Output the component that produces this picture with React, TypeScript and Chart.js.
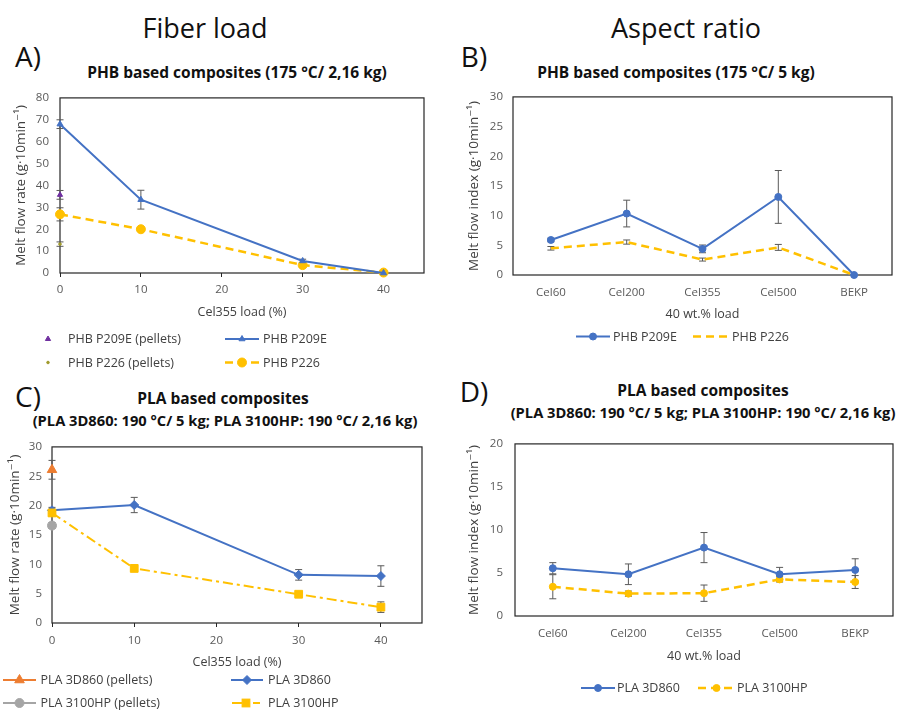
import React, { useEffect, useRef } from "react";
import { Chart, registerables } from "chart.js";

Chart.register(...registerables);

const FONT = "'Open Sans', 'DejaVu Sans', sans-serif";

// ---------------- Data ----------------
const fiberLoad = [0, 10, 30, 40];
const pelletLoad = [0];
const aspectCategories = ["Cel60", "Cel200", "Cel355", "Cel500", "BEKP"];

// A) PHB, fiber load
const phbP209EPellets = [35.7];
const phbP209EPelletsErr = [2];
const phbP226Pellets = [13.2];
const phbP226PelletsErr = [1];
const phbP209E = [68, 33.5, 5.5, 0];
const phbP209EErr = [2, 4.3, 0.8, 0];
const phbP226 = [26.8, 20, 3.6, 0.2];
const phbP226Err = [3, 0.9, 1, 0];

// B) PHB, aspect ratio
const phbP209EAspect = [5.9, 10.35, 4.4, 13.15, 0];
const phbP209EAspectErr = [0.3, 2.25, 0.65, 4.45, 0];
const phbP226Aspect = [4.5, 5.55, 2.6, 4.65, 0];
const phbP226AspectErr = [0.3, 0.35, 0.25, 0.5, 0];

// C) PLA, fiber load
const pla3D860Pellets = [26.1];
const pla3D860PelletsErr = [1.6];
const pla3100HPPellets = [16.6];
const pla3100HPPelletsErr = [0.5];
const pla3D860 = [19.2, 20.1, 8.2, 8.0];
const pla3D860Err = [0.5, 1.3, 0.9, 1.75];
const pla3100HP = [18.75, 9.3, 4.9, 2.7];
const pla3100HPErr = [0.5, 0.3, 0.3, 0.9];

// D) PLA, aspect ratio
const pla3D860Aspect = [5.55, 4.85, 7.95, 4.85, 5.35];
const pla3D860AspectErr = [0.65, 1.2, 1.75, 0.8, 1.3];
const pla3100HPAspect = [3.4, 2.6, 2.65, 4.25, 3.95];
const pla3100HPAspectErr = [1.4, 0.3, 0.95, 0.3, 0.75];

// axis ranges [min, max, step]
const xRangeLoad = [0, 45, 10];
const yRangeA = [0, 80, 10];
const yRangeB = [0, 30, 5];
const yRangeC = [0, 30, 5];
const yRangeD = [0, 20, 5];

// ---------------- Styles ----------------
const C = {
  blue: "#4472C4",
  yellow: "#FFC000",
  orange: "#ED7D31",
  gray: "#A5A5A5",
  purple: "#7030A0",
  olive: "#A09A2C",
  axis: "#262626",
  tick: "#595959",
  title: "#404040",
  err: "#595959",
};

type Style = { color: string; lw: number; dash?: number[]; marker: string; r: number; line: boolean };

const ST: Record<string, Style> = {
  phb209ePel: { color: C.purple, lw: 0, marker: "triangle", r: 3, line: false },
  phb226Pel: { color: C.olive, lw: 0, marker: "circle", r: 1.3, line: false },
  phb209e: { color: C.blue, lw: 2, marker: "triangle", r: 3.5, line: true },
  phb226: { color: C.yellow, lw: 2.5, dash: [8, 5], marker: "circle", r: 4.5, line: true },
  phb209eB: { color: C.blue, lw: 2, marker: "circle", r: 3.5, line: true },
  phb226B: { color: C.yellow, lw: 2.5, dash: [8, 5], marker: "circle", r: 0, line: true },
  pla3dPel: { color: C.orange, lw: 2, marker: "triangle", r: 5.5, line: true },
  pla31Pel: { color: C.gray, lw: 2, marker: "circle", r: 4.5, line: true },
  pla3d: { color: C.blue, lw: 2, marker: "rectRot", r: 4.5, line: true },
  pla31: { color: C.yellow, lw: 2, dash: [10, 4, 3, 4], marker: "rect", r: 5.5, line: true },
  pla3dD: { color: C.blue, lw: 2, marker: "circle", r: 3.5, line: true },
  pla31D: { color: C.yellow, lw: 2.5, dash: [8, 5], marker: "circle", r: 3.5, line: true },
};

function mkDs(label: string, data: any[], errors: number[], st: Style) {
  return {
    label,
    data,
    errorBars: errors,
    borderColor: st.color,
    backgroundColor: st.color,
    borderWidth: st.lw,
    borderDash: st.dash || [],
    showLine: st.line,
    pointStyle: st.marker,
    pointRadius: st.r,
    pointHoverRadius: st.r,
    pointBackgroundColor: st.color,
    pointBorderColor: st.color,
    pointBorderWidth: 1,
    tension: 0,
    clip: false,
    fill: false,
  };
}

const xy = (xs: number[], ys: number[]) => ys.map((y, i) => ({ x: xs[i], y }));

// plot border + error bars
const plotPlugin = {
  id: "plotBorderErr",
  beforeDatasetsDraw(chart: any) {
    const { ctx, chartArea: a } = chart;
    ctx.save();
    ctx.strokeStyle = C.axis;
    ctx.lineWidth = 1.2;
    ctx.setLineDash([]);
    ctx.strokeRect(a.left, a.top, a.right - a.left, a.bottom - a.top);
    const yScale = chart.scales.y;
    chart.data.datasets.forEach((ds: any, i: number) => {
      const err: number[] | undefined = ds.errorBars;
      if (!err) return;
      const meta = chart.getDatasetMeta(i);
      meta.data.forEach((el: any, j: number) => {
        const e = err[j];
        if (!e) return;
        const raw = ds.data[j];
        const v = typeof raw === "number" ? raw : raw.y;
        const yT = yScale.getPixelForValue(v + e);
        const yB = yScale.getPixelForValue(Math.max(0, v - e));
        const x = el.x;
        ctx.strokeStyle = C.err;
        ctx.lineWidth = 1;
        ctx.beginPath();
        ctx.moveTo(x, yT);
        ctx.lineTo(x, yB);
        ctx.moveTo(x - 3.5, yT);
        ctx.lineTo(x + 3.5, yT);
        ctx.moveTo(x - 3.5, yB);
        ctx.lineTo(x + 3.5, yB);
        ctx.stroke();
      });
    });
    ctx.restore();
  },
};

type Geo = { W: number; H: number; padL: number; padT: number; padR: number; yW: number; xH: number; yPad: number; xPad: number };
type Panel = {
  left: number;
  top: number;
  geo: Geo;
  xType: "linear" | "category";
  xTitle: string;
  yTitle: string;
  yRange: number[];
  datasets: any[];
};

function buildConfig(p: Panel): any {
  const g = p.geo;
  const tickFont = { family: FONT, size: 11.5 };
  const xTitleFont = { family: FONT, size: 12.5 };
  const yTitleFont = { family: FONT, size: 13.5 };
  const xScale: any =
    p.xType === "linear"
      ? {
          type: "linear",
          min: xRangeLoad[0],
          max: xRangeLoad[1],
          ticks: { stepSize: xRangeLoad[2], includeBounds: false, padding: g.xPad, color: C.tick, font: tickFont },
          grid: { display: true, drawOnChartArea: false, drawTicks: true, tickLength: 4, color: C.axis, lineWidth: 1 },
          border: { display: false },
        }
      : {
          type: "category",
          offset: true,
          ticks: { padding: g.xPad, color: C.tick, font: tickFont },
          grid: { display: false, drawTicks: false },
          border: { display: false },
        };
  xScale.title = { display: true, text: p.xTitle, color: C.title, font: xTitleFont, padding: 0 };
  xScale.afterFit = (s: any) => {
    s.height = g.xH;
  };
  const yScale: any = {
    type: "linear",
    min: p.yRange[0],
    max: p.yRange[1],
    ticks: { stepSize: p.yRange[2], padding: g.yPad, color: C.tick, font: tickFont },
    grid: { display: false, drawTicks: false },
    border: { display: false },
    title: { display: true, text: p.yTitle, color: C.title, font: yTitleFont, padding: 0 },
    afterFit: (s: any) => {
      s.width = g.yW;
    },
  };
  return {
    type: "line",
    data: p.xType === "linear" ? { datasets: p.datasets } : { labels: aspectCategories, datasets: p.datasets },
    options: {
      responsive: false,
      maintainAspectRatio: false,
      animation: false,
      events: [],
      layout: { autoPadding: false, padding: { left: g.padL, top: g.padT, right: g.padR, bottom: 0 } },
      plugins: { legend: { display: false }, tooltip: { enabled: false }, title: { display: false } },
      scales: { x: xScale, y: yScale },
    },
    plugins: [plotPlugin],
  };
}

const YT_RATE = "Melt flow rate (g·10min⁻¹)";
const YT_INDEX = "Melt flow index (g·10min⁻¹)";

const panels: Panel[] = [
  {
    left: 0,
    top: 80,
    geo: { W: 440, H: 240, padL: 13, padT: 11, padR: 16, yW: 47, xH: 47, yPad: 11, xPad: 6 },
    xType: "linear",
    xTitle: "Cel355 load (%)",
    yTitle: YT_RATE,
    yRange: yRangeA,
    datasets: [
      mkDs("PHB P209E", xy(fiberLoad, phbP209E), phbP209EErr, ST.phb209e),
      mkDs("PHB P226", xy(fiberLoad, phbP226), phbP226Err, ST.phb226),
      mkDs("PHB P209E (pellets)", xy(pelletLoad, phbP209EPellets), phbP209EPelletsErr, ST.phb209ePel),
      mkDs("PHB P226 (pellets)", xy(pelletLoad, phbP226Pellets), phbP226PelletsErr, ST.phb226Pel),
    ],
  },
  {
    left: 450,
    top: 80,
    geo: { W: 449, H: 242, padL: 16, padT: 14, padR: 7, yW: 47, xH: 47, yPad: 10, xPad: 11 },
    xType: "category",
    xTitle: "40 wt.% load",
    yTitle: YT_INDEX,
    yRange: yRangeB,
    datasets: [
      mkDs("PHB P209E", phbP209EAspect, phbP209EAspectErr, ST.phb209eB),
      mkDs("PHB P226", phbP226Aspect, phbP226AspectErr, ST.phb226B),
    ],
  },
  {
    left: 0,
    top: 430,
    geo: { W: 440, H: 240, padL: 7, padT: 6, padR: 18, yW: 45, xH: 47, yPad: 10, xPad: 7 },
    xType: "linear",
    xTitle: "Cel355 load (%)",
    yTitle: YT_RATE,
    yRange: yRangeC,
    datasets: [
      mkDs("PLA 3100HP", xy(fiberLoad, pla3100HP), pla3100HPErr, ST.pla31),
      mkDs("PLA 3D860", xy(fiberLoad, pla3D860), pla3D860Err, ST.pla3d),
      mkDs("PLA 3D860 (pellets)", xy(pelletLoad, pla3D860Pellets), pla3D860PelletsErr, ST.pla3dPel),
      mkDs("PLA 3100HP (pellets)", xy(pelletLoad, pla3100HPPellets), pla3100HPPelletsErr, ST.pla31Pel),
    ],
  },
  {
    left: 450,
    top: 425,
    geo: { W: 449, H: 239, padL: 16, padT: 8, padR: 6, yW: 49, xH: 48, yPad: 12, xPad: 11 },
    xType: "category",
    xTitle: "40 wt.% load",
    yTitle: YT_INDEX,
    yRange: yRangeD,
    datasets: [
      mkDs("PLA 3D860", pla3D860Aspect, pla3D860AspectErr, ST.pla3dD),
      mkDs("PLA 3100HP", pla3100HPAspect, pla3100HPAspectErr, ST.pla31D),
    ],
  },
];

function ChartCanvas({ panel }: { panel: Panel }) {
  const ref = useRef<HTMLCanvasElement>(null);
  useEffect(() => {
    const chart = new Chart(ref.current as HTMLCanvasElement, buildConfig(panel));
    return () => chart.destroy();
  }, []);
  const g = panel.geo;
  return (
    <canvas
      ref={ref}
      width={g.W}
      height={g.H}
      style={{ position: "absolute", left: panel.left, top: panel.top, width: g.W, height: g.H }}
    />
  );
}

function Txt({ x, y, size, bold, children, color }: any) {
  return (
    <div
      style={{
        position: "absolute",
        left: x,
        top: y,
        transform: "translate(-50%, -50%)",
        fontFamily: FONT,
        fontSize: size,
        fontWeight: bold ? 700 : 400,
        lineHeight: 1,
        whiteSpace: "nowrap",
        color: color || "#111",
      }}
    >
      {children}
    </div>
  );
}

type LegendItem = { label: string; st: Style; x1: number; x2: number; tx: number; y: number };

const legendItems: LegendItem[] = [
  { label: "PHB P209E (pellets)", st: ST.phb209ePel, x1: 48, x2: 48, tx: 68, y: 339 },
  { label: "PHB P209E", st: ST.phb209e, x1: 225, x2: 259, tx: 263, y: 339 },
  { label: "PHB P226 (pellets)", st: ST.phb226Pel, x1: 48, x2: 48, tx: 68, y: 362.5 },
  { label: "PHB P226", st: ST.phb226, x1: 225, x2: 259, tx: 263, y: 362.5 },
  { label: "PHB P209E", st: ST.phb209eB, x1: 576, x2: 610, tx: 613, y: 336.5 },
  { label: "PHB P226", st: ST.phb226B, x1: 693, x2: 728, tx: 732, y: 336.5 },
  { label: "PLA 3D860 (pellets)", st: ST.pla3dPel, x1: 3, x2: 36, tx: 40.5, y: 680 },
  { label: "PLA 3D860", st: ST.pla3d, x1: 231, x2: 263, tx: 268, y: 680 },
  { label: "PLA 3100HP (pellets)", st: ST.pla31Pel, x1: 3, x2: 36, tx: 40.5, y: 703 },
  { label: "PLA 3100HP", st: ST.pla31, x1: 232, x2: 260, tx: 268, y: 703 },
  { label: "PLA 3D860", st: ST.pla3dD, x1: 581, x2: 615, tx: 617, y: 688 },
  { label: "PLA 3100HP", st: ST.pla31D, x1: 698, x2: 735, tx: 737, y: 688 },
];

function MarkerSvg({ st, cx, cy }: { st: Style; cx: number; cy: number }) {
  const r = st.r;
  if (r <= 0) return null;
  const f = st.color;
  if (st.marker === "triangle") {
    const pts = `${cx},${cy - r} ${cx - r * 0.87},${cy + r * 0.5} ${cx + r * 0.87},${cy + r * 0.5}`;
    return <polygon points={pts} fill={f} stroke={f} strokeWidth={1} />;
  }
  if (st.marker === "rect") {
    const s = r * Math.SQRT1_2;
    return <rect x={cx - s} y={cy - s} width={2 * s} height={2 * s} fill={f} stroke={f} strokeWidth={1} />;
  }
  if (st.marker === "rectRot") {
    const pts = `${cx},${cy - r} ${cx + r},${cy} ${cx},${cy + r} ${cx - r},${cy}`;
    return <polygon points={pts} fill={f} stroke={f} strokeWidth={1} />;
  }
  return <circle cx={cx} cy={cy} r={r} fill={f} stroke={f} strokeWidth={1} />;
}

function Legends() {
  return (
    <>
      <svg width={899} height={711} style={{ position: "absolute", left: 0, top: 0, pointerEvents: "none" }}>
        {legendItems.map((it, i) => (
          <g key={i}>
            {it.st.line && it.x2 > it.x1 ? (
              <line
                x1={it.x1}
                x2={it.x2}
                y1={it.y}
                y2={it.y}
                stroke={it.st.color}
                strokeWidth={it.st.lw}
                strokeDasharray={it.st.dash ? it.st.dash.join(" ") : undefined}
              />
            ) : null}
            <MarkerSvg st={it.st} cx={(it.x1 + it.x2) / 2} cy={it.y} />
          </g>
        ))}
      </svg>
      {legendItems.map((it, i) => (
        <div
          key={"t" + i}
          style={{
            position: "absolute",
            left: it.tx,
            top: it.y,
            transform: "translateY(-50%)",
            fontFamily: FONT,
            fontSize: 12.5,
            lineHeight: 1,
            whiteSpace: "nowrap",
            color: "#404040",
          }}
        >
          {it.label}
        </div>
      ))}
    </>
  );
}

export default function App() {
  return (
    <div style={{ position: "absolute", left: 0, top: 0, width: 899, height: 711, background: "#fff", overflow: "hidden" }}>
      <Txt x={205} y={27} size={27}>Fiber load</Txt>
      <Txt x={686} y={27} size={27}>Aspect ratio</Txt>
      <Txt x={28} y={56} size={28}>A)</Txt>
      <Txt x={474} y={56} size={28}>B)</Txt>
      <Txt x={28} y={396} size={28}>C)</Txt>
      <Txt x={474} y={391} size={28}>D)</Txt>
      <Txt x={237} y={73} size={15.5} bold>PHB based composites (175 °C/ 2,16 kg)</Txt>
      <Txt x={676} y={73} size={15.5} bold>PHB based composites (175 °C/ 5 kg)</Txt>
      <Txt x={223} y={399} size={15.5} bold>PLA based composites</Txt>
      <Txt x={225} y={420} size={14.7} bold>(PLA 3D860: 190 °C/ 5 kg; PLA 3100HP: 190 °C/ 2,16 kg)</Txt>
      <Txt x={703} y={391} size={15.5} bold>PLA based composites</Txt>
      <Txt x={703} y={412} size={14.7} bold>(PLA 3D860: 190 °C/ 5 kg; PLA 3100HP: 190 °C/ 2,16 kg)</Txt>
      {panels.map((p, i) => (
        <ChartCanvas key={i} panel={p} />
      ))}
      <Legends />
    </div>
  );
}
